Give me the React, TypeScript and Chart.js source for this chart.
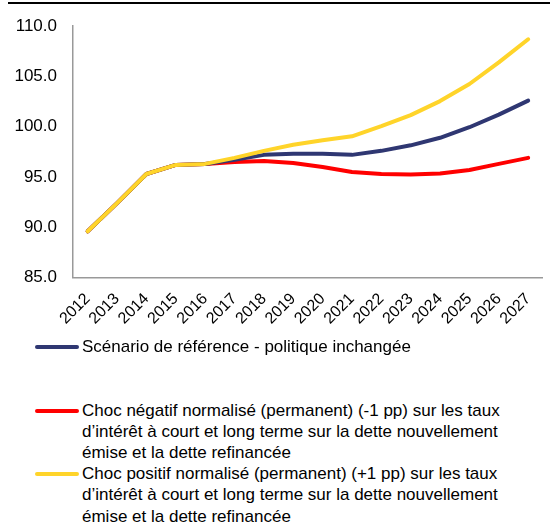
import React, { useEffect, useRef } from "react";
import { Chart, registerables } from "chart.js";

Chart.register(...registerables);

const years = ["2012","2013","2014","2015","2016","2017","2018","2019","2020","2021","2022","2023","2024","2025","2026","2027"];
const reference = [89.6, 92.4, 95.3, 96.2, 96.3, 96.7, 97.2, 97.3, 97.3, 97.2, 97.6, 98.15, 98.9, 99.95, 101.2, 102.6];
const negativeShock = [89.6, 92.4, 95.3, 96.2, 96.3, 96.5, 96.6, 96.4, 96.0, 95.5, 95.3, 95.25, 95.35, 95.7, 96.3, 96.9];
const positiveShock = [89.6, 92.4, 95.3, 96.2, 96.3, 96.9, 97.6, 98.2, 98.65, 99.05, 100.05, 101.15, 102.55, 104.25, 106.4, 108.7];

const BLUE = "#2F3772";
const RED = "#FF0000";
const YELLOW = "#FFD42A";

const legendItems = [
  { color: BLUE, lines: ["Scénario de référence - politique inchangée"] },
  { color: RED, lines: ["Choc négatif normalisé (permanent) (-1 pp) sur les taux", "d’intérêt à court et long terme sur la dette nouvellement", "émise et la dette refinancée"] },
  { color: YELLOW, lines: ["Choc positif normalisé (permanent) (+1 pp) sur les taux", "d’intérêt à court et long terme sur la dette nouvellement", "émise et la dette refinancée"] },
];

export default function App() {
  const ref = useRef<HTMLCanvasElement | null>(null);
  useEffect(() => {
    if (!ref.current) return;
    const family = "'Liberation Sans', Arial, sans-serif";
    const chart = new Chart(ref.current, {
      type: "line",
      data: {
        labels: years,
        datasets: [
          { label: "Scénario de référence - politique inchangée", data: reference, borderColor: BLUE, backgroundColor: BLUE, borderWidth: 4, pointRadius: 0, tension: 0, order: 1, borderCapStyle: "round", borderJoinStyle: "round" },
          { label: "Choc négatif", data: negativeShock, borderColor: RED, backgroundColor: RED, borderWidth: 4, pointRadius: 0, tension: 0, order: 2, borderCapStyle: "round", borderJoinStyle: "round" },
          { label: "Choc positif", data: positiveShock, borderColor: YELLOW, backgroundColor: YELLOW, borderWidth: 4, pointRadius: 0, tension: 0, order: 0, borderCapStyle: "round", borderJoinStyle: "round" },
        ],
      },
      options: {
        animation: false,
        responsive: false,
        maintainAspectRatio: false,
        layout: { padding: { left: 0, right: 8, top: 22, bottom: 0 } },
        plugins: { legend: { display: false }, tooltip: { enabled: false } },
        scales: {
          x: {
            offset: true,
            grid: { display: false, drawTicks: false },
            border: { display: true, color: "#999999", width: 1.5 },
            ticks: { font: { family, size: 16 }, color: "#000", minRotation: 45, maxRotation: 45, padding: 12, autoSkip: false },
            afterFit: (s: any) => { s.height = 62.5; },
          },
          y: {
            min: 85,
            max: 110,
            grid: { display: false, drawTicks: false },
            border: { display: true, color: "#999999", width: 1.5 },
            ticks: { font: { family, size: 17 }, color: "#000", stepSize: 5, padding: 16, callback: (v: any) => Number(v).toFixed(1) },
            afterFit: (s: any) => { s.width = 73; },
          },
        },
      },
    });
    return () => chart.destroy();
  }, []);

  return (
    <div style={{ position: "absolute", left: 0, top: 0, width: 554, height: 524, background: "#fff", overflow: "hidden", fontFamily: "'Liberation Sans', Arial, sans-serif" }}>
      <div style={{ position: "absolute", left: 8, top: 2, width: 542, height: 2, background: "#000" }} />
      <canvas ref={ref} width={554} height={340} style={{ position: "absolute", left: 0, top: 0, width: 554, height: 340 }} />
      {legendItems.map((item, i) => (
        <div key={i} style={{ position: "absolute", left: 35, top: 336 + i * 63.6, display: "flex", alignItems: "flex-start" }}>
          <div style={{ width: 44, height: 4, borderRadius: 2, background: item.color, marginTop: 9, marginRight: 3 }} />
          <div style={{ fontSize: 17, lineHeight: "21.2px", color: "#000", whiteSpace: "nowrap" }}>
            {item.lines.map((l, j) => (<div key={j}>{l}</div>))}
          </div>
        </div>
      ))}
    </div>
  );
}
